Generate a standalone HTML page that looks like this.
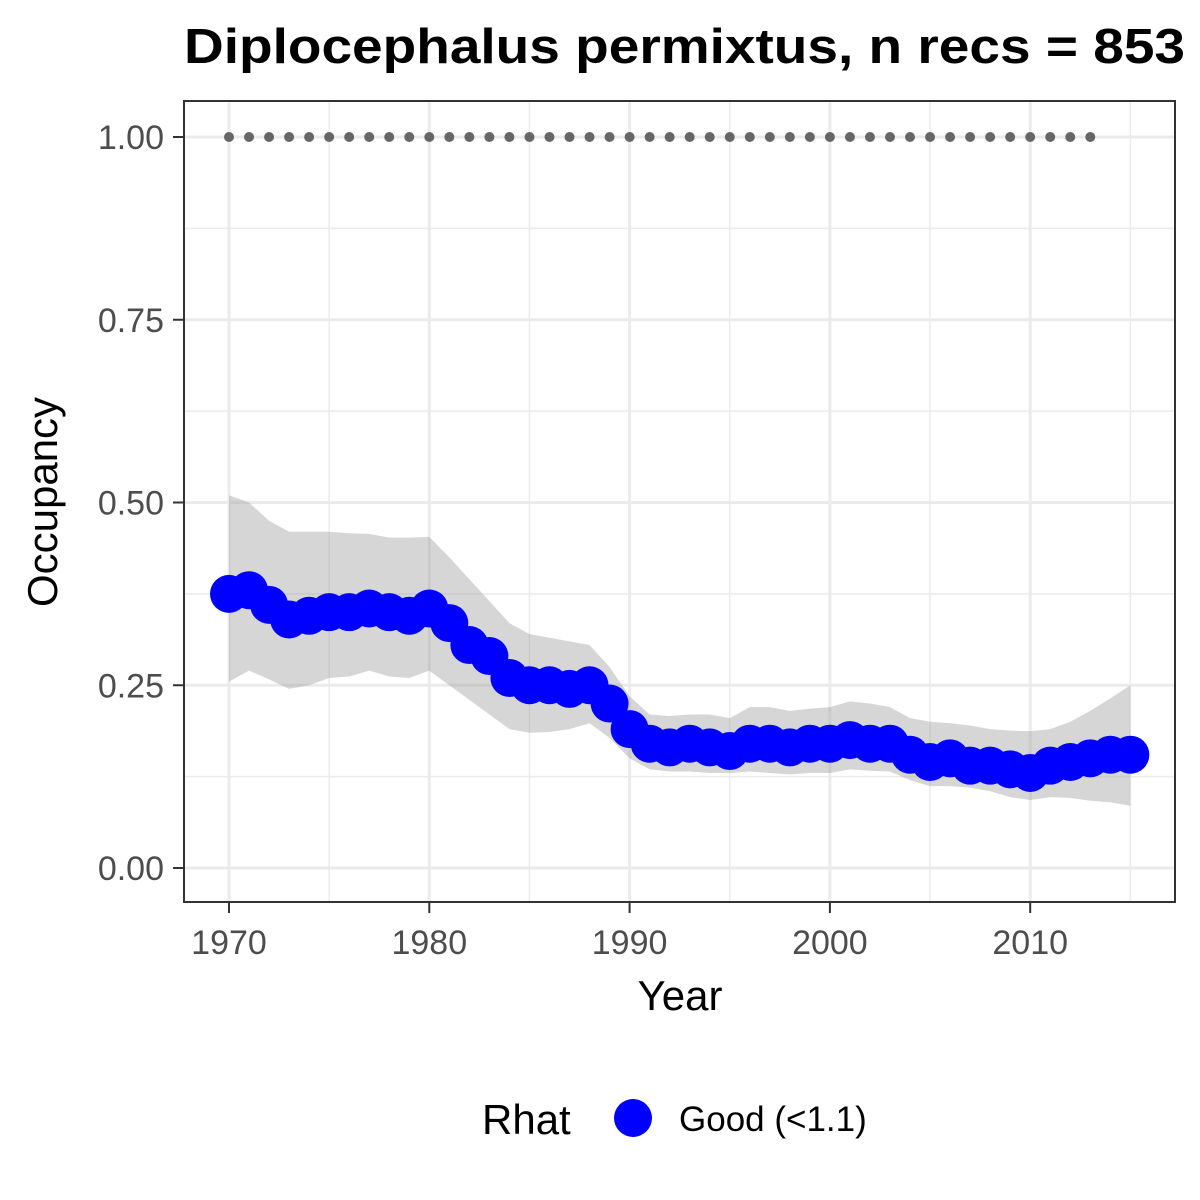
<!DOCTYPE html>
<html><head><meta charset="utf-8"><style>
body{margin:0;background:#fff}
svg{display:block;font-family:"Liberation Sans",Arial,sans-serif}
</style></head><body>
<svg id="c" width="1200" height="1200">
<text x="184" y="63" font-size="49" font-weight="bold" textLength="1001" lengthAdjust="spacingAndGlyphs">Diplocephalus permixtus, n recs = 853</text>
<g id="grid"></g>
<g id="band"></g>
<g id="top"></g>
<g id="pts"></g>
<rect x="184" y="101" width="991" height="801" fill="none" stroke="#333" stroke-width="2"/>
<g id="axes"></g>
<text x="680" y="1010" font-size="42" text-anchor="middle">Year</text>
<text transform="translate(57,502) rotate(-90)" font-size="42" text-anchor="middle">Occupancy</text>
<g>
<text x="482" y="1134" font-size="42">Rhat</text>
<circle cx="633" cy="1118" r="19" fill="#0000ff"/>
<text x="679" y="1131" font-size="35">Good (&lt;1.1)</text>
</g>
</svg>
<script>
const years=[1970,1971,1972,1973,1974,1975,1976,1977,1978,1979,1980,1981,1982,1983,1984,1985,1986,1987,1988,1989,1990,1991,1992,1993,1994,1995,1996,1997,1998,1999,2000,2001,2002,2003,2004,2005,2006,2007,2008,2009,2010,2011,2012,2013,2014,2015];
const occ=[0.375,0.38,0.36,0.34,0.345,0.35,0.35,0.355,0.35,0.345,0.355,0.335,0.305,0.29,0.26,0.25,0.25,0.245,0.25,0.225,0.19,0.17,0.165,0.17,0.165,0.16,0.17,0.17,0.165,0.17,0.17,0.175,0.17,0.17,0.155,0.145,0.15,0.14,0.14,0.135,0.13,0.14,0.145,0.15,0.155,0.155];
const upper=[0.51,0.50,0.475,0.46,0.46,0.46,0.458,0.457,0.452,0.452,0.453,0.425,0.395,0.365,0.335,0.32,0.315,0.31,0.305,0.275,0.235,0.21,0.208,0.21,0.21,0.205,0.22,0.22,0.215,0.218,0.22,0.228,0.225,0.22,0.205,0.2,0.198,0.195,0.19,0.188,0.187,0.19,0.2,0.215,0.232,0.25];
const lower=[0.255,0.27,0.258,0.245,0.25,0.26,0.262,0.27,0.262,0.26,0.27,0.25,0.23,0.21,0.19,0.185,0.186,0.19,0.198,0.178,0.15,0.135,0.132,0.132,0.13,0.13,0.132,0.13,0.128,0.13,0.13,0.135,0.133,0.132,0.12,0.112,0.112,0.11,0.105,0.097,0.093,0.097,0.096,0.092,0.09,0.085];
const recYears=[1970,1971,1972,1973,1974,1975,1976,1977,1978,1979,1980,1981,1982,1983,1984,1985,1986,1987,1988,1989,1990,1991,1992,1993,1994,1995,1996,1997,1998,1999,2000,2001,2002,2003,2004,2005,2006,2007,2008,2009,2010,2011,2012,2013];
const xTicks=[1970,1980,1990,2000,2010];
const yTicks=[0,0.25,0.5,0.75,1];
const yTickLabels=["0.00","0.25","0.50","0.75","1.00"];
const NS="http://www.w3.org/2000/svg";
const X=v=>229+(v-1970)*20.03;
const Y=v=>868-v*731;
function mk(p,t,a){const e=document.createElementNS(NS,t);for(const k in a)e.setAttribute(k,a[k]);document.getElementById(p).appendChild(e);return e;}
[1975,1985,1995,2005,2015].forEach(v=>{const e=mk('grid','line',{x1:X(v),x2:X(v),y1:101,y2:902,stroke:'#ebebeb','stroke-width':1.5});

});
[0.125,0.375,0.625,0.875].forEach(v=>{const e=mk('grid','line',{x1:184,x2:1175,y1:Y(v),y2:Y(v),stroke:'#ebebeb','stroke-width':1.5});

});
xTicks.forEach(v=>{const e=mk('grid','line',{x1:X(v),x2:X(v),y1:101,y2:902,stroke:'#ebebeb','stroke-width':3});

});
yTicks.forEach(v=>{const e=mk('grid','line',{x1:184,x2:1175,y1:Y(v),y2:Y(v),stroke:'#ebebeb','stroke-width':3});

});
let d='M'+years.map((y,i)=>X(y)+','+Y(upper[i])).join('L');
for(let i=years.length-1;i>=0;i--)d+='L'+X(years[i])+','+Y(lower[i]);
const b=mk('band','path',{d:d+'Z',fill:'rgba(153,153,153,0.4)'});


recYears.forEach(y=>{const e=mk('top','circle',{cx:X(y),cy:Y(1),r:5,fill:'#666'});

});
years.forEach((y,i)=>{const e=mk('pts','circle',{cx:X(y),cy:Y(occ[i]),r:19,fill:'#0000ff'});

});
xTicks.forEach(v=>{mk('axes','line',{x1:X(v),x2:X(v),y1:902,y2:913,stroke:'#333','stroke-width':2});
const t=mk('axes','text',{x:X(v),y:954,'font-size':34,fill:'#4d4d4d','text-anchor':'middle'});t.textContent=v;

});
yTicks.forEach((v,i)=>{mk('axes','line',{x1:173,x2:184,y1:Y(v),y2:Y(v),stroke:'#333','stroke-width':2});
const t=mk('axes','text',{x:164,y:Y(v)+12,'font-size':34,fill:'#4d4d4d','text-anchor':'end'});t.textContent=yTickLabels[i];

});
</script>
</body></html>
